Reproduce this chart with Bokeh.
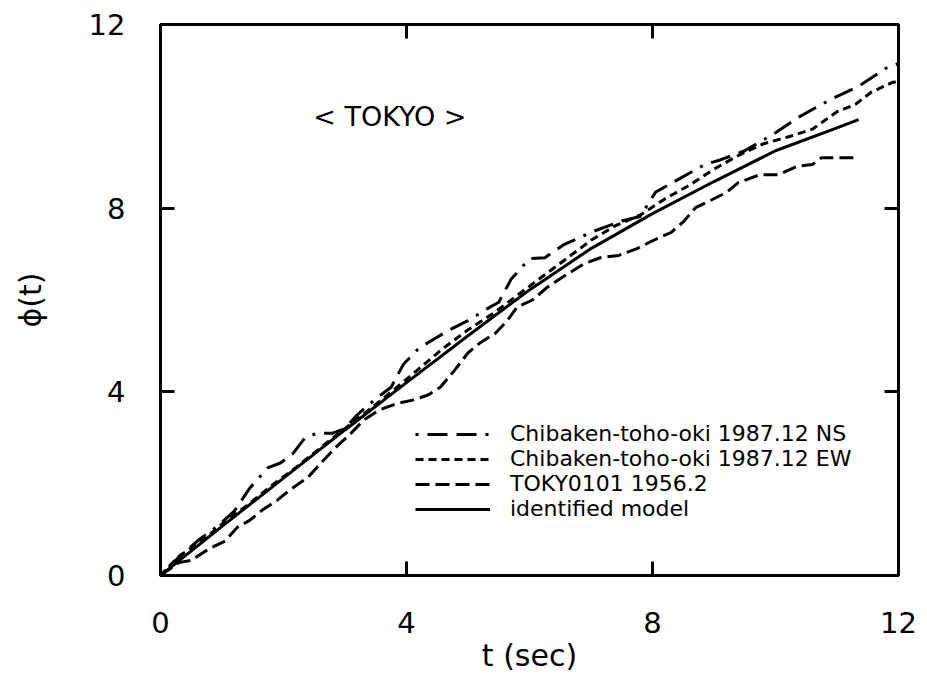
from bokeh.plotting import figure
from bokeh.models import (Range1d, LinearAxis, FixedTicker, Legend, LegendItem, Label)
from bokeh.embed import file_html
from bokeh.resources import INLINE

# ---- data ----
t_model = [0, 1, 2, 3, 4, 5, 6, 7, 8, 9, 10, 11, 11.35]
phi_model = [0, 1.07, 2.12, 3.17, 4.2, 5.22, 6.22, 7.12, 7.88, 8.58, 9.25, 9.75, 9.93]

t_ns = [0, 0.3, 0.6, 0.95, 1.2, 1.45, 1.75, 1.95, 2.15, 2.35, 2.55, 2.8, 3.0, 3.2, 3.5,
        3.75, 3.95, 4.2, 4.45, 4.7, 5.0, 5.3, 5.5, 5.7, 6.0, 6.25, 6.55, 7.05, 7.5, 7.8,
        8.05, 8.45, 8.85, 9.1, 9.5, 9.95, 10.4, 10.9, 11.35, 11.8, 12.0]
phi_ns = [0, 0.4, 0.75, 1.1, 1.4, 1.9, 2.35, 2.45, 2.65, 3.0, 3.1, 3.1, 3.2, 3.5, 3.85,
          4.1, 4.6, 4.95, 5.15, 5.35, 5.55, 5.8, 5.95, 6.45, 6.9, 6.92, 7.2, 7.5, 7.72, 7.82,
          8.35, 8.65, 8.95, 9.05, 9.25, 9.6, 10.0, 10.37, 10.65, 11.05, 11.15]

t_ew = [0, 0.3, 0.7, 1.0, 1.4, 1.8, 2.2, 2.6, 3.0, 3.4, 3.8, 4.2, 4.6, 5.0, 5.4, 5.8,
        6.2, 6.6, 7.0, 7.4, 7.8, 8.2, 8.6, 9.0, 9.4, 9.8, 10.2, 10.6, 11.0, 11.3, 11.55,
        11.9, 12.0]
phi_ew = [0, 0.42, 0.78, 1.12, 1.52, 1.95, 2.35, 2.78, 3.2, 3.62, 4.05, 4.5, 4.95, 5.35,
          5.7, 6.1, 6.5, 6.9, 7.3, 7.62, 7.85, 8.2, 8.5, 8.85, 9.15, 9.4, 9.55, 9.72, 10.1,
          10.26, 10.52, 10.74, 10.75]

t_tk = [0, 0.3, 0.5, 0.8, 1.05, 1.25, 1.45, 1.65, 1.9, 2.1, 2.4, 2.65, 2.85, 3.1, 3.3,
        3.55, 3.85, 4.1, 4.35, 4.55, 4.8, 5.0, 5.2, 5.45, 5.65, 5.8, 6.05, 6.3, 6.6, 6.9,
        7.15, 7.45, 7.75, 8.0, 8.3, 8.5, 8.7, 8.9, 9.2, 9.4, 9.75, 10.05, 10.35, 10.6,
        10.75, 11.3]
phi_tk = [0, 0.28, 0.33, 0.59, 0.75, 1.05, 1.2, 1.42, 1.64, 1.86, 2.14, 2.51, 2.79, 3.1,
          3.38, 3.6, 3.75, 3.82, 3.93, 4.1, 4.5, 4.85, 5.07, 5.28, 5.57, 5.85, 6.0, 6.29,
          6.55, 6.8, 6.92, 6.97, 7.12, 7.29, 7.47, 7.7, 8.01, 8.14, 8.34, 8.56, 8.73, 8.73,
          8.91, 8.95, 9.1, 9.1]

ticks = [0, 4, 8, 12]
inner_ticks = [4, 8]
labels = ["Chibaken-toho-oki 1987.12 NS", "Chibaken-toho-oki 1987.12 EW",
          "TOKY0101 1956.2", "identified model"]

FONT = "DejaVu Sans"

p = figure(width=927, height=685, output_backend="svg", toolbar_location=None,
           x_range=Range1d(0, 12), y_range=Range1d(0, 12),
           min_border_left=160, min_border_right=29, min_border_top=24,
           min_border_bottom=110, x_axis_location=None, y_axis_location=None)
p.grid.visible = False
p.outline_line_color = "black"
p.outline_line_width = 3
p.background_fill_color = "white"
p.border_fill_color = "white"

def style_axis(ax, show_labels):
    ax.axis_line_width = 3
    ax.axis_line_color = "black"
    ax.major_tick_in = 14
    ax.major_tick_out = 0
    ax.major_tick_line_width = 3
    ax.minor_tick_line_color = None
    ax.major_label_text_font = FONT
    ax.major_label_text_font_size = "29px"
    ax.major_label_text_color = "black"
    ax.axis_label_text_color = "black"
    if not show_labels:
        ax.major_label_text_alpha = 0
        ax.major_label_text_font_size = "1px"

xb = LinearAxis(ticker=FixedTicker(ticks=ticks), axis_label="t (sec)")
style_axis(xb, True)
xb.major_label_standoff = 36
xb.axis_label_standoff = 2
xb.axis_label_text_font = FONT
xb.axis_label_text_font_size = "30px"
xb.axis_label_text_font_style = "normal"
p.add_layout(xb, "below")

yl = LinearAxis(ticker=FixedTicker(ticks=ticks), axis_label="ϕ(t)")
style_axis(yl, True)
yl.major_label_standoff = 35
yl.axis_label_standoff = 38
yl.axis_label_text_font = FONT
yl.axis_label_text_font_size = "30px"
yl.axis_label_text_font_style = "normal"
p.add_layout(yl, "left")

xt = LinearAxis(ticker=FixedTicker(ticks=inner_ticks))
style_axis(xt, False)
p.add_layout(xt, "above")

yr = LinearAxis(ticker=FixedTicker(ticks=inner_ticks))
style_axis(yr, False)
p.add_layout(yr, "right")

r_ns = p.line(t_ns, phi_ns, line_color="black", line_width=3, line_dash="3 9 20 9 20 9")
r_ew = p.line(t_ew, phi_ew, line_color="black", line_width=3, line_dash="8 5")
r_tk = p.line(t_tk, phi_tk, line_color="black", line_width=3, line_dash="14 6")
r_md = p.line(t_model, phi_model, line_color="black", line_width=3)

legend = Legend(items=[LegendItem(label=labels[0], renderers=[r_ns]),
                       LegendItem(label=labels[1], renderers=[r_ew]),
                       LegendItem(label=labels[2], renderers=[r_tk]),
                       LegendItem(label=labels[3], renderers=[r_md])],
                location=(255, 54), glyph_width=75, glyph_height=16,
                label_standoff=20, spacing=0, padding=0, margin=0,
                border_line_color=None, background_fill_alpha=0,
                label_text_font=FONT, label_text_font_size="22px",
                label_text_color="black")
p.add_layout(legend)

p.add_layout(Label(x=3.73, y=10.0, text="< TOKYO >", text_font=FONT,
                   text_font_size="27px", text_align="center",
                   text_baseline="middle", text_color="black"))

open("out.html", "w").write(file_html(p, INLINE))
